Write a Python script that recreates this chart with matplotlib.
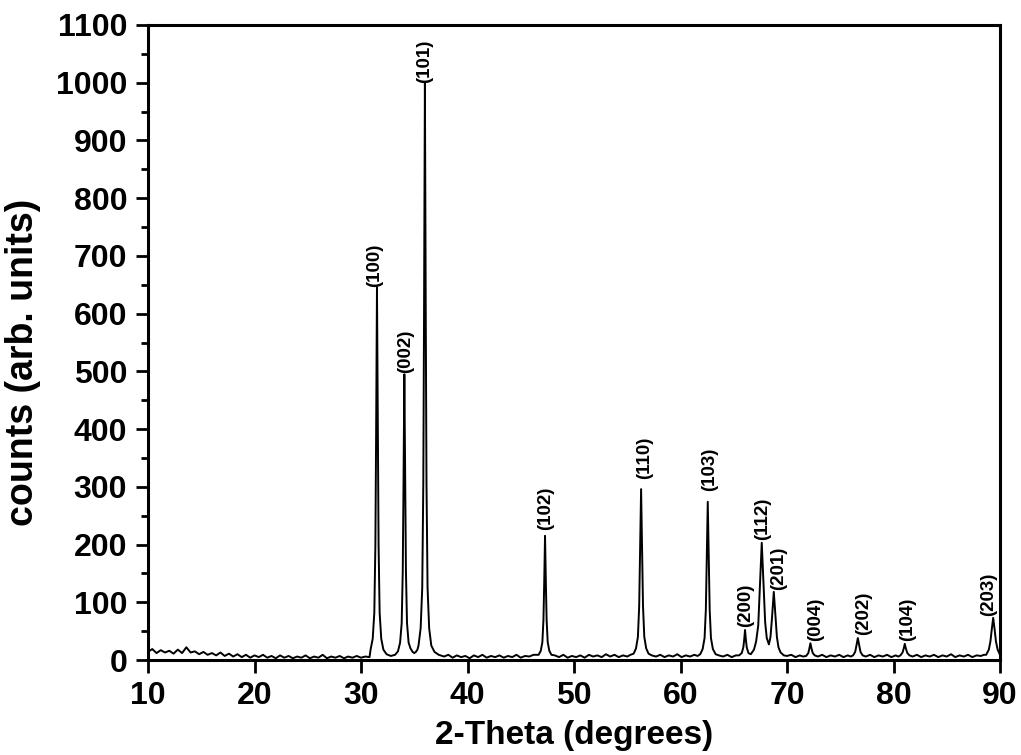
import matplotlib
matplotlib.use("Agg")
import matplotlib.pyplot as plt
from matplotlib.ticker import MultipleLocator

# ---- data ----
two_theta = [
    10.0, 10.4, 10.8, 11.2, 11.6, 12.0, 12.4, 12.8, 13.2, 13.6, 14.0, 14.4, 14.8,
    15.2, 15.6, 16.0, 16.4, 16.8, 17.2, 17.6, 18.0, 18.4, 18.8, 19.2, 19.6, 20.0,
    20.4, 20.8, 21.2, 21.6, 22.0, 22.4, 22.8, 23.2, 23.6, 24.0, 24.4, 24.8, 25.2,
    25.6, 26.0, 26.4, 26.8, 27.2, 27.6, 28.0, 28.4, 28.8, 29.2, 29.6, 30.0, 30.4,
    30.8,
    # (100)
    30.9, 31.1, 31.25, 31.35, 31.42, 31.50, 31.58, 31.65, 31.75, 31.9, 32.1,
    32.4, 32.8, 33.2,
    # (002)
    33.47, 33.67, 33.82, 33.92, 33.99, 34.07, 34.15, 34.22, 34.32, 34.47,
    34.65, 34.85, 35.0, 35.15, 35.3,
    # (101)
    35.4, 35.6, 35.75, 35.85, 35.92, 36.0, 36.08, 36.15, 36.25, 36.4, 36.6,
    36.9, 37.3,
    37.8, 38.2, 38.6, 39.0, 39.4, 39.8, 40.2, 40.6, 41.0, 41.4, 41.8, 42.2, 42.6,
    43.0, 43.4, 43.8, 44.2, 44.6, 45.0, 45.4, 45.8, 46.2,
    # (102)
    46.68, 46.88, 47.03, 47.13, 47.2, 47.28, 47.36, 47.43, 47.53, 47.68, 47.88,
    48.2, 48.6, 49.0, 49.4, 49.8, 50.2, 50.6, 51.0, 51.4, 51.8, 52.2, 52.6, 53.0,
    53.4, 53.8, 54.2, 54.6, 55.0, 55.3,
    # (110)
    55.6, 55.82, 56.0, 56.12, 56.2, 56.3, 56.4, 56.48, 56.6, 56.78, 57.0,
    57.3, 57.7, 58.1, 58.5, 58.9, 59.3, 59.7, 60.1, 60.5, 60.9, 61.3, 61.6,
    # (103)
    61.85, 62.08, 62.26, 62.38, 62.46, 62.56, 62.66, 62.74, 62.86, 63.04, 63.3,
    63.6, 64.0, 64.4, 64.8, 65.2,
    # (200)
    65.5, 65.75, 65.9, 65.98, 66.06, 66.14, 66.22, 66.38,
    # (112)
    66.6, 66.9, 67.1, 67.3, 67.43, 67.53, 67.63, 67.73, 67.83, 67.95, 68.1, 68.3,
    # (201)
    68.45, 68.58, 68.67, 68.76, 68.85, 68.94, 69.05, 69.2, 69.4, 69.7,
    70.0, 70.4, 70.8, 71.2, 71.5,
    # (004)
    71.8, 72.0, 72.1, 72.2, 72.3, 72.42, 72.6,
    72.9, 73.3, 73.7, 74.1, 74.5, 74.9, 75.3, 75.7, 76.0,
    # (202)
    76.2, 76.4, 76.52, 76.65, 76.78, 76.9, 77.1,
    77.4, 77.8, 78.2, 78.6, 79.0, 79.4, 79.8, 80.2, 80.45,
    # (104)
    80.65, 80.85, 80.96, 81.06, 81.16, 81.3, 81.5,
    81.8, 82.2, 82.6, 83.0, 83.4, 83.8, 84.2, 84.6, 85.0, 85.4, 85.8, 86.2, 86.6,
    87.0, 87.4, 87.8, 88.2, 88.5,
    # (203)
    88.7, 88.95, 89.1, 89.22, 89.36, 89.5, 89.62, 89.78, 90.0,
]
counts = [
    14, 19, 12, 17, 13, 16, 11, 18, 12, 22, 13, 15, 10,
    14, 9, 12, 8, 13, 7, 11, 6, 10, 5, 9, 4, 8,
    5, 9, 4, 7, 3, 8, 4, 7, 3, 6, 4, 8, 3,
    6, 4, 9, 3, 6, 4, 7, 3, 6, 4, 7, 4, 6,
    5,
    18, 37, 82, 199, 392, 645, 392, 199, 82, 37, 18,
    10, 7, 9,
    15, 30, 64, 153, 300, 495, 300, 153, 64, 30,
    20, 14, 12, 14, 18,
    25, 55, 125, 305, 600, 1000, 600, 305, 125, 55, 25,
    14, 9,
    6, 9, 4, 8, 5, 7, 3, 8, 5, 9, 4, 7, 5,
    8, 4, 7, 5, 9, 4, 7, 6, 9,
    9, 16, 31, 69, 131, 215, 131, 69, 31, 16, 9,
    8, 5, 9, 4, 7, 5, 8, 4, 9, 6, 8, 5, 10,
    6, 9, 5, 8, 6, 9,
    11, 20, 40, 93, 180, 296, 180, 93, 40, 20, 11,
    8, 6, 9, 5, 8, 6, 10, 5, 8, 6, 9, 7,
    10, 19, 38, 87, 167, 274, 167, 87, 38, 19, 10,
    8, 6, 9, 5, 8,
    8, 12, 22, 35, 52, 35, 22, 12,
    10, 18, 32, 60, 115, 160, 203, 160, 115, 65, 38, 27,
    40, 70, 95, 118, 95, 70, 40, 22, 13, 8,
    7, 9, 5, 8, 6,
    7, 12, 20, 29, 20, 12, 8,
    6, 9, 5, 8, 6, 9, 5, 8, 6,
    8, 14, 25, 38, 25, 14, 8,
    6, 9, 5, 8, 6, 9, 5, 8, 6,
    8, 13, 20, 28, 20, 12, 8,
    6, 9, 5, 8, 6, 9, 5, 8, 6, 10, 5, 8, 6,
    9, 5, 8, 7, 9,
    9, 18, 32, 52, 73, 52, 32, 18, 9,
]

peak_labels = ["(100)", "(002)", "(101)", "(102)", "(110)", "(103)", "(200)",
               "(112)", "(201)", "(004)", "(202)", "(104)", "(203)"]
label_theta = [31.3, 34.2, 35.97, 47.37, 56.6, 62.7, 66.1,
               67.67, 69.2, 72.68, 77.18, 81.36, 88.92]
label_counts = [646, 497, 1000, 225, 314, 293, 58,
                208, 121, 33, 43, 33, 76]

x_ticks = [10, 20, 30, 40, 50, 60, 70, 80, 90]
y_ticks = [0, 100, 200, 300, 400, 500, 600, 700, 800, 900, 1000, 1100]

# ---- figure ----
FONT = "Liberation Sans"
plt.rcParams["font.family"] = [FONT, "DejaVu Sans"]

fig = plt.figure(figsize=(10.21, 7.55), dpi=100)
ax = fig.add_axes([148 / 1021, 95 / 755, 852 / 1021, 635 / 755])

ax.plot(two_theta, counts, color="black", lw=1.4)

ax.set_xlim(10, 90)
ax.set_ylim(0, 1100)
ax.set_xticks(x_ticks)
ax.set_yticks(y_ticks)
ax.yaxis.set_minor_locator(MultipleLocator(50))

for s in ax.spines.values():
    s.set_linewidth(2.2)

ax.tick_params(axis="both", which="major", direction="out", length=9,
               width=2.0, labelsize=23, pad=6)
ax.tick_params(axis="y", which="minor", direction="out", length=5, width=2.0)
for lab in ax.get_xticklabels() + ax.get_yticklabels():
    lab.set_fontweight("bold")

ax.set_xlabel("2-Theta (degrees)", fontsize=24, fontweight="bold")
ax.set_ylabel("counts (arb. units)", fontsize=27, fontweight="bold")
ax.xaxis.set_label_coords(0.5, -0.095)
ax.yaxis.set_label_coords(-0.125, 0.468)

for name, xt, yc in zip(peak_labels, label_theta, label_counts):
    ax.text(xt, yc, name, rotation=90, ha="center", va="bottom",
            fontsize=13.5, fontweight="bold")

fig.savefig("out.png", dpi=100)
